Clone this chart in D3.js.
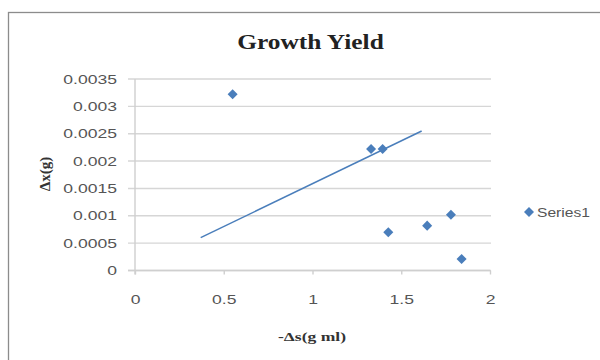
<!DOCTYPE html>
<html>
<head>
<meta charset="utf-8">
<script src="https://cdn.jsdelivr.net/npm/d3@7"></script>
<style>
  html, body { margin: 0; padding: 0; background: #fff; }
  svg { display: block; }
</style>
</head>
<body>
<svg id="chart" width="600" height="360"></svg>
<script>
// Measured growth data: substrate consumed vs. biomass formed
const seriesName = "Series1";
const substrateUsed = [0.55, 1.33, 1.395, 1.427, 1.646, 1.78, 1.84];
const biomassFormed = [0.00322, 0.00222, 0.00222, 0.0007, 0.00082, 0.00102, 0.00021];

// Straight line drawn across the scatter (two end points)
const fitX = [0.37, 1.615];
const fitY = [0.0006, 0.00255];

const xTicks = [0, 0.5, 1, 1.5, 2];
const xTickLabels = ["0", "0.5", "1", "1.5", "2"];
const yTicks = [0, 0.0005, 0.001, 0.0015, 0.002, 0.0025, 0.003, 0.0035];
const yTickLabels = ["0", "0.0005", "0.001", "0.0015", "0.002", "0.0025", "0.003", "0.0035"];

const svg = d3.select("#chart");
const blue = "#4a7ebb";
const labelFont = "'Liberation Sans', Arial, sans-serif";
const serif = "'Liberation Serif', 'Times New Roman', serif";

// Widen text horizontally by a factor (glyphs keep their height)
function widen(sel, factor) {
  sel.each(function () {
    const len = this.getComputedTextLength();
    d3.select(this)
      .attr("textLength", len * factor)
      .attr("lengthAdjust", "spacingAndGlyphs");
  });
}

// Chart frame
svg.append("rect")
  .attr("x", 8.5).attr("y", 12.5)
  .attr("width", 620).attr("height", 400)
  .attr("fill", "#fff")
  .attr("stroke", "#8c8c8c").attr("stroke-width", 1.3);

const x = d3.scaleLinear().domain([0, 2]).range([135, 490]);
const y = d3.scaleLinear().domain([0, 0.0035]).range([270.5, 79]);

// Horizontal gridlines
svg.append("g")
  .selectAll("line")
  .data(yTicks)
  .join("line")
  .attr("x1", 128).attr("x2", 491)
  .attr("y1", d => y(d)).attr("y2", d => y(d))
  .attr("stroke", "#d6d6d6").attr("stroke-width", 1.4);

// Y axis
const yAxis = d3.axisLeft(y)
  .tickValues(yTicks)
  .tickFormat((d, i) => yTickLabels[i])
  .tickSize(0)
  .tickPadding(18);
const gy = svg.append("g").attr("transform", `translate(${x(0)},0)`).call(yAxis);
gy.select(".domain").attr("stroke", "#cfcfcf").attr("stroke-width", 1.4)
  .attr("d", `M0,${y(0.0035)}V${y(0) + 4}`);
gy.selectAll("text")
  .attr("font-family", labelFont).attr("font-size", 13).attr("fill", "#555")
  .call(widen, 1.35);

// X axis
const xAxis = d3.axisBottom(x)
  .tickValues(xTicks)
  .tickFormat((d, i) => xTickLabels[i])
  .tickSize(4)
  .tickPadding(20);
const gx = svg.append("g").attr("transform", `translate(0,${y(0)})`).call(xAxis);
gx.select(".domain").attr("stroke", "#cfcfcf").attr("stroke-width", 1.4)
  .attr("d", `M${x(0) - 7},0H${x(2)}`);
gx.selectAll(".tick line").attr("stroke", "#cfcfcf").attr("stroke-width", 1.4);
gx.selectAll("text")
  .attr("font-family", labelFont).attr("font-size", 13).attr("fill", "#555")
  .call(widen, 1.35);

// Line across the scatter
svg.append("path")
  .datum(d3.zip(fitX, fitY))
  .attr("d", d3.line().x(d => x(d[0])).y(d => y(d[1])))
  .attr("fill", "none").attr("stroke", blue).attr("stroke-width", 1.5);

// Diamond markers
const diamond = d3.symbol().type(d3.symbolDiamond2).size(64);
svg.append("g")
  .selectAll("path")
  .data(d3.zip(substrateUsed, biomassFormed))
  .join("path")
  .attr("d", diamond)
  .attr("transform", d => `translate(${x(d[0])},${y(d[1])})`)
  .attr("fill", blue);

// Title
svg.append("text")
  .attr("x", 310.5).attr("y", 49)
  .attr("text-anchor", "middle")
  .attr("font-family", serif).attr("font-weight", "bold").attr("font-size", 20)
  .attr("fill", "#222")
  .text("Growth Yield")
  .call(widen, 1.27);

// Axis titles
svg.append("text")
  .attr("transform", "translate(50,174) rotate(-90)")
  .attr("text-anchor", "middle")
  .attr("font-family", serif).attr("font-weight", "bold").attr("font-size", 15)
  .attr("fill", "#333")
  .text("\u0394x(g)");

svg.append("text")
  .attr("x", 312).attr("y", 341)
  .attr("text-anchor", "middle")
  .attr("font-family", serif).attr("font-weight", "bold").attr("font-size", 13)
  .attr("fill", "#333")
  .text("-\u0394s(g ml)")
  .call(widen, 1.35);

// Legend
const legend = svg.append("g").attr("transform", "translate(529,212)");
legend.append("path").attr("d", diamond).attr("fill", blue);
legend.append("text")
  .attr("x", 8).attr("y", 4.5)
  .attr("font-family", labelFont).attr("font-size", 12).attr("fill", "#555")
  .text(seriesName)
  .call(widen, 1.3);
</script>
</body>
</html>
